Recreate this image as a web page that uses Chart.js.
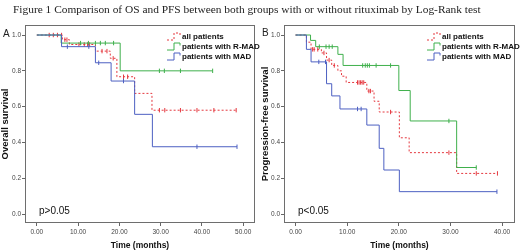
<!DOCTYPE html>
<html><head><meta charset="utf-8">
<script src="https://cdn.jsdelivr.net/npm/chart.js@4/dist/chart.umd.min.js"></script>
<style>
html,body{margin:0;padding:0;background:#fff;}
#wrap{position:relative;width:520px;height:252px;overflow:hidden;}
#title{position:absolute;left:13px;top:3px;font-family:"Liberation Serif","Times New Roman",serif;font-size:11.4px;color:#222;white-space:nowrap;}
.lab{position:absolute;font-family:"Liberation Sans",Arial,sans-serif;font-size:10px;color:#222;}
canvas{position:absolute;top:0;}
</style></head>
<body><div id="wrap">
<canvas id="cA" width="260" height="252" style="left:0;width:260px;height:252px"></canvas>
<canvas id="cB" width="260" height="252" style="left:260px;width:260px;height:252px"></canvas>
<div id="title">Figure 1 Comparison of OS and PFS between both groups with or without rituximab by Log-Rank test</div>
<div class="lab" style="left:3px;top:28px">A</div>
<div class="lab" style="left:262px;top:27px">B</div>
</div>
<script>
// ---- Series names ----
const seriesNames = ['all patients', 'patients with R-MAD', 'patients with MAD'];
const yTickValues = [0, 0.2, 0.4, 0.6, 0.8, 1.0];
const osXTicks = [0, 10, 20, 30, 40, 50];
const pfsXTicks = [0, 10, 20, 30, 40];

// ---- Overall survival (panel A) ----
const osAllT = [0, 6.2, 7.9, 14.2, 17.8, 19.4, 23.7, 27.9, 48.3];
const osAllS = [1, 0.974, 0.947, 0.91, 0.87, 0.767, 0.674, 0.58, 0.58];
const osAllCens = [3, 4, 5, 6, 6.8, 7.3, 10.2, 11.5, 12.3, 12.8, 15.8, 17, 18.5, 21, 22, 29.7, 31, 34.8, 38.8, 42.9, 48.3];
const osRT = [0, 5.9, 20.2, 42.6];
const osRS = [1, 0.955, 0.80, 0.80];
const osRCens = [10.6, 12.5, 14.2, 15.4, 16.6, 18.6, 29.7, 30.9, 34.8, 42.6];
const osMT = [0, 6, 14.2, 18, 23.7, 28, 48.5];
const osMS = [1, 0.935, 0.845, 0.743, 0.557, 0.376, 0.376];
const osMCens = [7.4, 12.6, 15, 21, 38.8, 48.5];

// ---- Progression-free survival (panel B) ----
const pfsAllT = [0, 2.1, 3.0, 5.0, 6.0, 7.0, 8.2, 8.9, 9.8, 13.8, 15.2, 16.2, 20.1, 22, 31.2, 39.1];
const pfsAllS = [1, 0.96, 0.92, 0.90, 0.86, 0.83, 0.80, 0.77, 0.735, 0.687, 0.63, 0.57, 0.426, 0.343, 0.227, 0.227];
const pfsAllCens = [3.3, 3.6, 4.3, 5.5, 6.5, 7.5, 12, 12.3, 12.6, 12.9, 13.2, 14.2, 14.5, 18.4, 29.7, 35, 39.1];
const pfsRT = [0, 2.9, 3.9, 8.2, 9.2, 20, 22.2, 31.2, 35];
const pfsRS = [1, 0.97, 0.935, 0.892, 0.83, 0.69, 0.52, 0.26, 0.26];
const pfsRCens = [4.6, 5.9, 6.5, 7.1, 13, 13.5, 13.9, 14.3, 15.6, 18.4, 29.7, 35];
const pfsMT = [0, 2.1, 3.0, 6.0, 7.0, 8.6, 13.8, 16.2, 17.1, 20.1, 39];
const pfsMS = [1, 0.92, 0.85, 0.728, 0.66, 0.587, 0.497, 0.367, 0.246, 0.125, 0.125];
const pfsMCens = [4.5, 5.8, 12, 12.7, 39];

const colors = ['#e5383f', '#3fb04c', '#4d60c2'];
const dashes = [[2, 2], [], []];

function stepVal(T, S, t) {
  let v = S[0];
  for (let i = 0; i < T.length; i++) if (T[i] <= t) v = S[i];
  return v;
}
function buildDatasets(groups) {
  const ds = [];
  groups.forEach((g, i) => {
    ds.push({
      label: seriesNames[i],
      data: g.T.map((t, k) => ({x: t, y: g.S[k]})),
      showLine: true, stepped: 'before',
      borderColor: colors[i], borderWidth: 1, borderDash: dashes[i],
      pointRadius: 0, order: 3 - i
    });
    ds.push({
      label: seriesNames[i] + ' censored',
      data: g.C.map(t => ({x: t, y: stepVal(g.T, g.S, t)})),
      showLine: false, pointStyle: 'line', rotation: 90, pointRadius: 2.2,
      borderColor: colors[i], borderWidth: 1, order: 3 - i
    });
  });
  return ds;
}

const framePlugin = {
  id: 'frame',
  afterDraw(chart, args, opts) {
    const {ctx, chartArea: a} = chart;
    ctx.save();
    ctx.strokeStyle = '#6e6e6e'; ctx.lineWidth = 1;
    ctx.strokeRect(a.left + 0.5, a.top + 0.5, a.right - a.left - 1, a.bottom - a.top - 1);
    // legend
    ctx.font = 'bold 8px "Liberation Sans", Arial, sans-serif';
    ctx.textBaseline = 'middle';
    seriesNames.forEach((n, i) => {
      const y = a.top + 11.5 + i * 10;
      const x0 = a.right - 88;
      ctx.strokeStyle = colors[i]; ctx.setLineDash(dashes[i]);
      ctx.beginPath();
      ctx.moveTo(x0, y + 3.5); ctx.lineTo(x0 + 7, y + 3.5); ctx.lineTo(x0 + 7, y - 3.5);
      ctx.lineTo(x0 + 13, y - 3.5); ctx.lineTo(x0 + 13, y - 1);
      ctx.stroke();
      ctx.setLineDash([]);
      ctx.fillStyle = '#111';
      ctx.fillText(n, x0 + 15, y);
    });
    ctx.font = '10px "Liberation Sans", Arial, sans-serif';
    ctx.fillStyle = '#111';
    ctx.fillText(opts.ptext, a.left + 14, a.bottom - 12);
    ctx.restore();
  }
};

function makeChart(id, groups, xTicks, xmin, xmax, yTitle, ptext, yWidth) {
  new Chart(document.getElementById(id), {
    type: 'scatter',
    data: {datasets: buildDatasets(groups)},
    options: {
      responsive: false, animation: false, devicePixelRatio: 1,
      layout: {padding: {top: 25, right: 1, left: 0, bottom: 0}},
      plugins: {legend: {display: false}, tooltip: {enabled: false}, frame: {ptext}},
      scales: {
        x: {
          type: 'linear', min: xmin, max: xmax,
          afterBuildTicks: s => { s.ticks = xTicks.map(v => ({value: v})); },
          afterFit: s => { s.height = 29; },
          grid: {drawOnChartArea: false, drawTicks: true, tickLength: 3, color: '#666'},
          border: {display: false},
          ticks: {font: {size: 6.5, family: '"Liberation Sans", Arial'}, color: '#444', padding: 2,
                  maxRotation: 0, callback: v => Number(v).toFixed(2)},
          title: {display: true, text: 'Time (months)', color: '#111',
                  font: {size: 8.5, weight: 'bold', family: '"Liberation Sans", Arial'}, padding: {top: 2, bottom: 1}}
        },
        y: {
          type: 'linear', min: -0.05, max: 1.056,
          afterBuildTicks: s => { s.ticks = yTickValues.map(v => ({value: v})); },
          afterFit: s => { s.width = yWidth; },
          grid: {drawOnChartArea: false, drawTicks: true, tickLength: 3, color: '#666'},
          border: {display: false},
          ticks: {font: {size: 6.5, family: '"Liberation Sans", Arial'}, color: '#444', padding: 1,
                  callback: v => Number(v).toFixed(1)},
          title: {display: true, text: yTitle, color: '#111',
                  font: {size: 9.5, weight: 'bold', family: '"Liberation Sans", Arial'}, padding: {top: 0, bottom: 0}}
        }
      }
    },
    plugins: [framePlugin]
  });
}

makeChart('cA', [
  {T: osAllT, S: osAllS, C: osAllCens},
  {T: osRT, S: osRS, C: osRCens},
  {T: osMT, S: osMS, C: osMCens}
], osXTicks, -2.86, 52.86, 'Overall survival', 'p>0.05', 25);

makeChart('cB', [
  {T: pfsAllT, S: pfsAllS, C: pfsAllCens},
  {T: pfsRT, S: pfsRS, C: pfsRCens},
  {T: pfsMT, S: pfsMS, C: pfsMCens}
], pfsXTicks, -2.24, 42.5, 'Progression-free survival', 'p<0.05', 24);
</script>
</body></html>
